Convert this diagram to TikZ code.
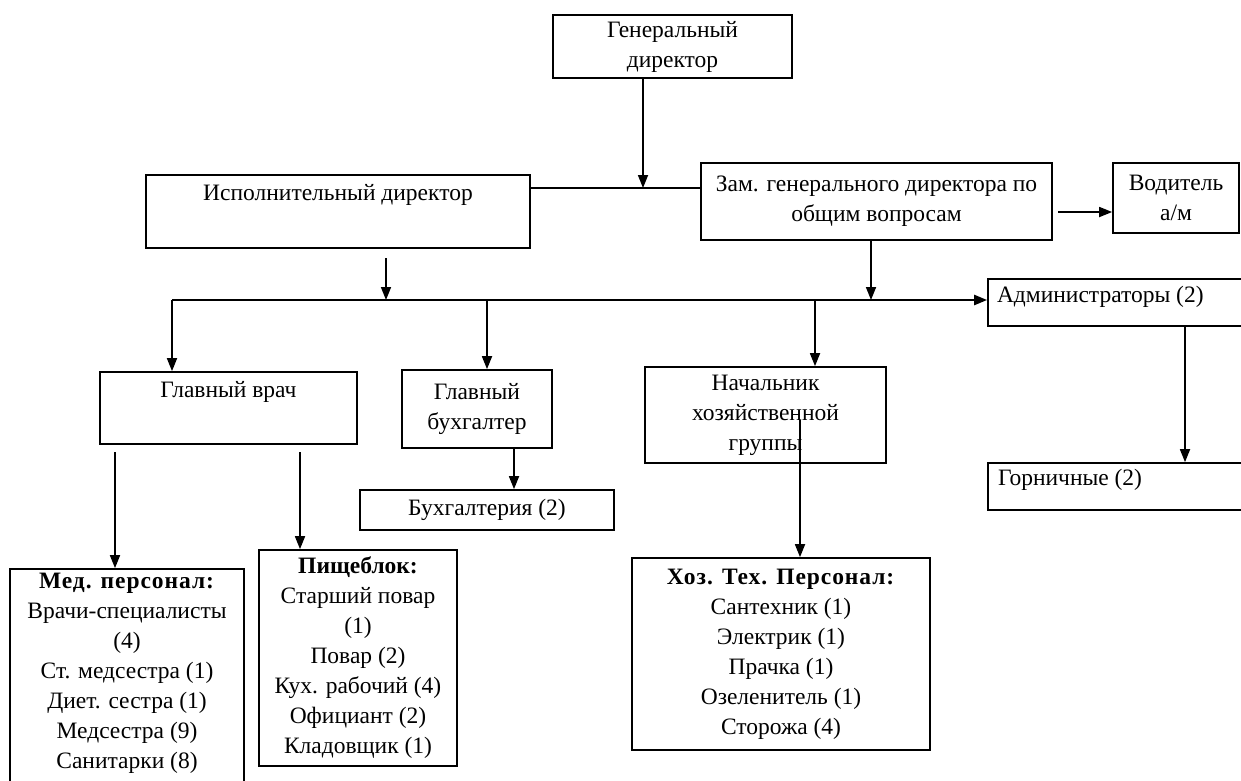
\documentclass[tikz,border=0pt]{standalone}
\usepackage{fontspec}
\setmainfont{Liberation Serif}
\usetikzlibrary{arrows.meta}
\tikzset{
every node/.style={rectangle, draw, line width=1.7pt, align=center, inner sep=0pt,
  font=\fontsize{23.5}{30}\selectfont},
every label/.style={rectangle, draw=none, align=center, inner sep=4pt},
>={Triangle[length=13pt,width=10pt]}
}
\newcommand{\hd}[1]{\textbf{\addfontfeature{LetterSpace=4}#1}}

\begin{document}
\begin{tikzpicture}[x=1pt, y=-1pt, line width=1.7pt]
\clip (0,0) rectangle (1241,780);
\fill[white] (0,0) rectangle (1241,780);

\node [minimum width=239, minimum height=63] (GD) at (672.5,46.5) {Генеральный\\директор};
\node [minimum width=384, minimum height=73,
  label={[anchor=north, yshift=-5pt]north:Исполнительный директор}] (ID) at (338,211.5) {};
\node [minimum width=351, minimum height=77] (ZGD) at (876.5,201.5) {Зам. генерального директора по\\общим вопросам};
\node [minimum width=126, minimum height=70] (VOD) at (1176,198) {Водитель\\а/м};
\node [minimum width=272, minimum height=47,
  label={[anchor=north west, xshift=5pt, yshift=-3pt]north west:Администраторы (2)}] (ADM) at (1124,302.5) {};

\node [minimum width=257, minimum height=72,
  label={[anchor=north, yshift=-5pt]north:Главный врач}] (GV) at (228.5,408) {};
\node [minimum width=150, minimum height=78] (GB) at (477,409) {Главный\\бухгалтер};
\node [minimum width=254, minimum height=40] (BUH) at (487,510) {Бухгалтерия (2)};
\node [minimum width=241, minimum height=96] (NHG) at (765.5,415) {Начальник\\хозяйственной\\группы};
\node [minimum width=272, minimum height=47,
  label={[anchor=north west, xshift=6pt, yshift=-2pt]north west:Горничные (2)}] (GOR) at (1124,486.5) {};

\node [minimum width=234, minimum height=231,
  label={[anchor=north]north:\hd{Мед. персонал:}\\Врачи-специалисты\\(4)\\Ст. медсестра (1)\\Диет. сестра (1)\\Медсестра (9)\\Санитарки (8)}] (MED) at (127,684.5) {};
\node [minimum width=198, minimum height=216] (PIS) at (358,658)
  {\textbf{Пищеблок:}\\Старший повар\\(1)\\Повар (2)\\Кух. рабочий (4)\\Официант (2)\\Кладовщик (1)};
\node [minimum width=298, minimum height=192] (HOZ) at (781,654)
  {\hd{Хоз. Тех. Персонал:}\\Сантехник (1)\\Электрик (1)\\Прачка (1)\\Озеленитель (1)\\Сторожа (4)};

% joints
\coordinate (top) at (643,188);
\coordinate (vod) at (1058,212);
\coordinate (idout) at (386,258);
\coordinate (bus) at (172,300);
\coordinate (bus2) at (487,300);
\coordinate (bus3) at (815,300);
\coordinate (bus4) at (871,300);
\coordinate (busend) at (942,300);
\coordinate (gbout) at (514,448);
\coordinate (nhgout) at (800,420);
\coordinate (admout) at (1185,326);
\coordinate (gv1) at (115,452);
\coordinate (gv2) at (300,452);

\draw[->] (GD.south -| top) -- (top);
\draw (ID.east |- top) -- (ZGD.west |- top);
\draw[->] (vod) -- (VOD.west |- vod);

\draw[->] (idout) -- (idout |- bus);
\draw[->] (ZGD.south -| bus4) -- (bus4);
\draw (bus) -- (busend);
\draw[->, line width=2.4pt] (busend) -- (ADM.west |- busend);
\draw[->] (bus) -- (bus |- GV.north);
\draw[->] (bus2) -- (bus2 |- GB.north);
\draw[->] (bus3) -- (bus3 |- NHG.north);

\draw[->] (gbout) -- (gbout |- BUH.north);
\draw[->] (nhgout) -- (nhgout |- HOZ.north);
\draw[->] (admout) -- (admout |- GOR.north);
\draw[->] (gv1) -- (gv1 |- MED.north);
\draw[->] (gv2) -- (gv2 |- PIS.north);
\end{tikzpicture}
\end{document}
